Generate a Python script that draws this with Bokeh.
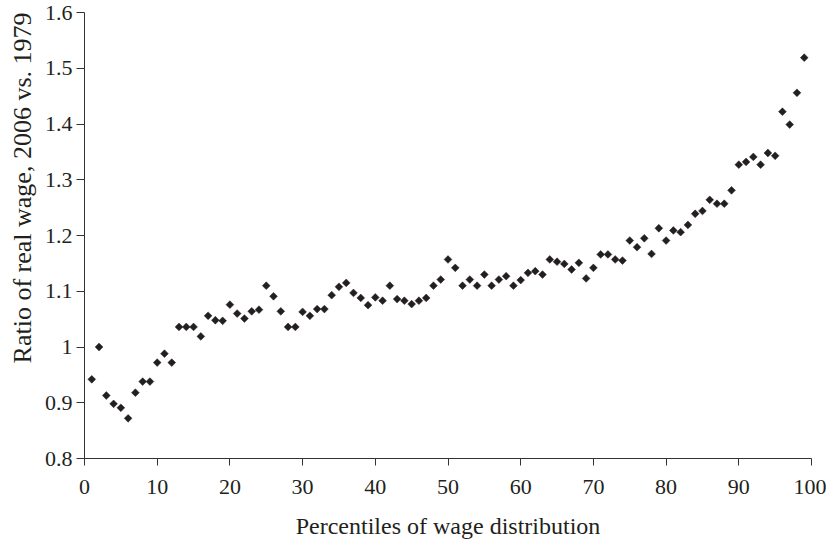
from bokeh.plotting import figure
from bokeh.models import Range1d, FixedTicker, Title
from bokeh.embed import file_html
from bokeh.resources import INLINE
import math

percentiles = [1, 2, 3, 4, 5, 6, 7, 8, 9, 10, 11, 12, 13, 14, 15, 16, 17, 18, 19, 20,
               21, 22, 23, 24, 25, 26, 27, 28, 29, 30, 31, 32, 33, 34, 35, 36, 37, 38, 39, 40,
               41, 42, 43, 44, 45, 46, 47, 48, 49, 50, 51, 52, 53, 54, 55, 56, 57, 58, 59, 60,
               61, 62, 63, 64, 65, 66, 67, 68, 69, 70, 71, 72, 73, 74, 75, 76, 77, 78, 79, 80,
               81, 82, 83, 84, 85, 86, 87, 88, 89, 90, 91, 92, 93, 94, 95, 96, 97, 98, 99]
ratio = [0.942, 1.000, 0.913, 0.898, 0.891, 0.872, 0.918, 0.938, 0.938, 0.972,
         0.988, 0.972, 1.036, 1.036, 1.036, 1.019, 1.056, 1.048, 1.047, 1.076,
         1.060, 1.051, 1.064, 1.067, 1.110, 1.091, 1.064, 1.036, 1.036, 1.063,
         1.056, 1.068, 1.068, 1.093, 1.108, 1.115, 1.097, 1.088, 1.075, 1.089,
         1.083, 1.110, 1.086, 1.083, 1.077, 1.083, 1.088, 1.110, 1.121, 1.157,
         1.142, 1.110, 1.121, 1.110, 1.130, 1.110, 1.121, 1.127, 1.110, 1.120,
         1.133, 1.136, 1.130, 1.157, 1.153, 1.149, 1.139, 1.151, 1.123, 1.142,
         1.166, 1.166, 1.157, 1.155, 1.191, 1.179, 1.195, 1.167, 1.213, 1.191,
         1.209, 1.206, 1.219, 1.239, 1.244, 1.264, 1.257, 1.257, 1.281, 1.327,
         1.332, 1.341, 1.327, 1.348, 1.343, 1.422, 1.399, 1.456, 1.519]

x_ticks = [0, 10, 20, 30, 40, 50, 60, 70, 80, 90, 100]
y_ticks = [0.8, 0.9, 1.0, 1.1, 1.2, 1.3, 1.4, 1.5, 1.6]
y_tick_labels = ["0.8", "0.9", "1", "1.1", "1.2", "1.3", "1.4", "1.5", "1.6"]
x_title = "Percentiles of wage distribution"
y_title = "Ratio of real wage, 2006 vs. 1979"

FONT = "Liberation Serif"
INK = "#231f20"

p = figure(width=826, height=541, output_backend="svg", toolbar_location=None,
           x_range=Range1d(0, 100), y_range=Range1d(0.8, 1.6),
           min_border_left=81, min_border_right=15, min_border_top=12, min_border_bottom=80)
p.outline_line_color = None
p.grid.visible = False
p.background_fill_color = "white"

p.scatter(percentiles, ratio, marker="square", size=5.5, angle=math.pi / 4,
          fill_color=INK, line_color=INK, line_width=0.5)

for ax in (p.xaxis[0], p.yaxis[0]):
    ax.axis_line_color = "#333333"
    ax.axis_line_width = 1
    ax.major_tick_line_color = "#333333"
    ax.major_tick_in = 0
    ax.minor_tick_line_color = None
    ax.major_label_text_font = FONT
    ax.major_label_text_font_size = "22px"
    ax.major_label_text_color = INK

p.xaxis.ticker = FixedTicker(ticks=x_ticks)
p.xaxis.major_tick_out = 7
p.xaxis.major_label_standoff = 14
p.xaxis.axis_label = x_title
p.xaxis.axis_label_text_font = FONT
p.xaxis.axis_label_text_font_size = "24px"
p.xaxis.axis_label_text_font_style = "normal"
p.xaxis.axis_label_text_color = INK
p.xaxis.axis_label_standoff = 16

p.yaxis.ticker = FixedTicker(ticks=y_ticks)
p.yaxis.major_label_overrides = {t: s for t, s in zip(y_ticks, y_tick_labels)}
p.yaxis.major_tick_out = 8
p.yaxis.major_label_standoff = 4

ytitle = Title(text=y_title, align="right", offset=0, standoff=10,
               text_font=FONT, text_font_size="26px", text_font_style="normal",
               text_color=INK)
p.add_layout(ytitle, "left")

open("out.html", "w").write(file_html(p, INLINE))
